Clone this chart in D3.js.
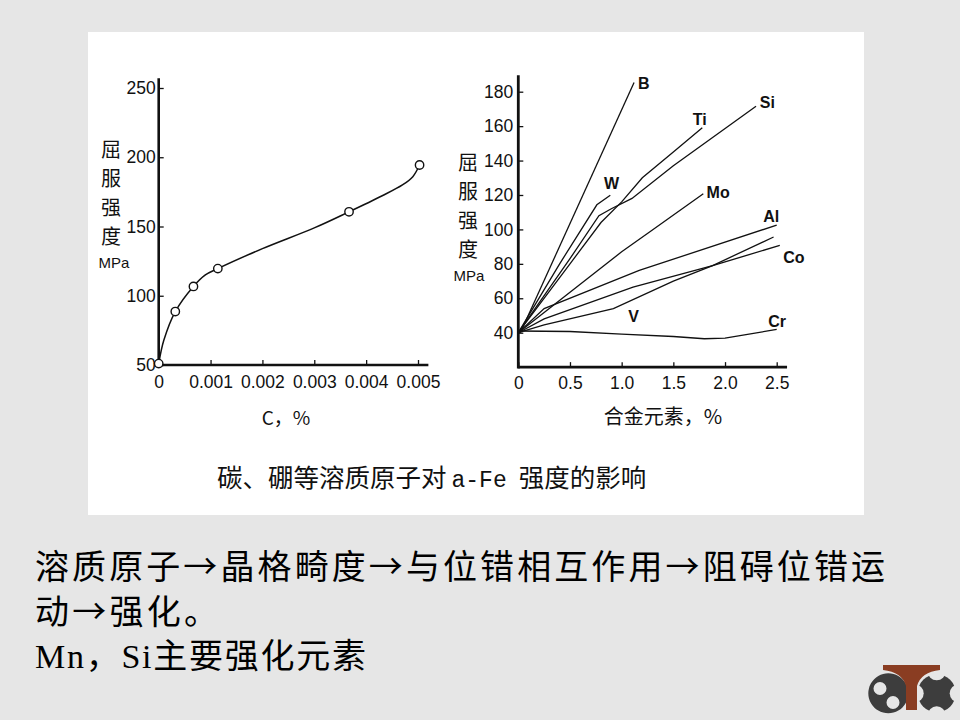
<!DOCTYPE html>
<html>
<head>
<meta charset="utf-8">
<script src="https://cdn.jsdelivr.net/npm/d3@7"></script>
<style>
  html, body { margin: 0; padding: 0; background: #e6e6e6; }
  svg { display: block; }
</style>
</head>
<body>
<svg id="slide" width="960" height="720"></svg>
<script>
// ---- data: left chart (carbon) ----
let cTicks = [0, 0.001, 0.002, 0.003, 0.004, 0.005];
let cTickLabels = ["0", "0.001", "0.002", "0.003", "0.004", "0.005"];
let ysTicksL = [50, 100, 150, 200, 250];
let cPoints = [ [0, 51], [0.00032, 88.6], [0.00067, 106.7], [0.00114, 119.6], [0.00367, 160.6], [0.00503, 194.4] ];
let cCurve = [ [0, 51], [0.0001, 68], [0.00032, 88.6], [0.00067, 106.7], [0.0009, 115], [0.00114, 119.6],
  [0.002, 134], [0.003, 149], [0.00367, 160.6], [0.0043, 172], [0.0047, 180], [0.0049, 186], [0.00503, 194.4] ];

// ---- data: right chart (alloying elements) ----
let aTicks = [0, 0.5, 1.0, 1.5, 2.0, 2.5];
let aTickLabels = ["0", "0.5", "1.0", "1.5", "2.0", "2.5"];
let ysTicksR = [40, 60, 80, 100, 120, 140, 160, 180];
let elemNames = ["B", "Ti", "Si", "W", "Mo", "Al", "Co", "V", "Cr"];
let elemLines = [
  [ [0.02, 40], [1.12, 185.3] ],
  [ [0, 40], [0.5, 80], [0.8, 104], [1.0, 116], [1.2, 130], [1.5, 145], [1.78, 159] ],
  [ [0, 40], [0.5, 83], [0.78, 108], [0.9, 112], [1.1, 118], [1.5, 137], [2.3, 171.5] ],
  [ [0, 40], [0.4, 80], [0.76, 114.3], [0.89, 119.8] ],
  [ [0, 40], [1.0, 87], [1.27, 98.5], [1.79, 120.7] ],
  [ [0, 40], [0.25, 54], [1.17, 76.2], [2.5, 102.5] ],
  [ [0, 40], [0.25, 48], [1.11, 66.5], [1.88, 79], [2.53, 90.7] ],
  [ [0, 40], [0.25, 44.5], [0.92, 54], [1.5, 70], [1.88, 79], [2.47, 95.6] ],
  [ [0, 41], [0.5, 40.7], [1.0, 39.2], [1.5, 37.8], [1.8, 36.5], [2.0, 36.9], [2.5, 41.9] ]
];
let elemLabelAt = [ [1.158, 181.8], [1.687, 160.5], [2.337, 170.6], [0.829, 123.3], [1.822, 118.3],
  [2.369, 104.3], [2.563, 80.6], [1.064, 46.2], [2.418, 43.3] ];

// ---- texts ----
let yTitleChars = ["屈", "服", "强", "度"];
let yUnit = "MPa";
let xTitleL = "C，%";
let xTitleR = "合金元素，%";
let captionA = "碳、硼等溶质原子对";
let captionB = "a-Fe";
let captionC = "强度的影响";
let bodyLines = [
  { len: 850, parts: [ ["cjk", "溶质原子→晶格畸度→与位错相互作用→阻碍位错运"] ] },
  { len: 183, parts: [ ["cjk", "动→强化。"] ] },
  { len: 331, parts: [ ["lat", "Mn"], ["cjk", "，"], ["lat", "Si"], ["cjk", "主要强化元素"] ] }
];

let svg = d3.select("#slide");
let cjkFont = "'Noto Sans CJK SC', sans-serif";
let tickFont = "'Liberation Sans', Arial, sans-serif";

svg.append("rect").attr("width", 960).attr("height", 720).attr("fill", "#e6e6e6");
svg.append("rect").attr("x", 88).attr("y", 32).attr("width", 776).attr("height", 483).attr("fill", "#ffffff");

// ---------- left chart ----------
let xL = d3.scaleLinear().domain([0, 0.005]).range([158.7, 418]);
let yL = d3.scaleLinear().domain([50, 250]).range([365, 88]);

let gL = svg.append("g");
let axL = gL.append("g").attr("transform", "translate(0," + yL(50) + ")")
  .call(d3.axisBottom(xL).tickValues(cTicks).tickFormat((d, i) => cTickLabels[i]).tickSizeInner(-5).tickSizeOuter(0).tickPadding(12));
let ayL = gL.append("g").attr("transform", "translate(" + xL(0) + ",0)")
  .call(d3.axisLeft(yL).tickValues(ysTicksL).tickSizeInner(-5).tickSizeOuter(0).tickPadding(3));
[axL, ayL].forEach(a => {
  a.select(".domain").remove();
  a.selectAll("line").attr("stroke", "#111").attr("stroke-width", 1.3);
  a.selectAll("text").attr("font-family", tickFont).attr("font-size", 17.5).attr("fill", "#111");
});
axL.selectAll("text").attr("dy", "0.6em");
gL.append("line").attr("x1", xL(0)).attr("x2", xL(0.0052)).attr("y1", yL(50)).attr("y2", yL(50))
  .attr("stroke", "#111").attr("stroke-width", 2.6);
gL.append("line").attr("x1", xL(0)).attr("x2", xL(0)).attr("y1", yL(50) + 1).attr("y2", yL(257))
  .attr("stroke", "#111").attr("stroke-width", 2.6);

gL.append("path").datum(cCurve)
  .attr("d", d3.line().x(d => xL(d[0])).y(d => yL(d[1])).curve(d3.curveCatmullRom))
  .attr("fill", "none").attr("stroke", "#111").attr("stroke-width", 1.5);
gL.selectAll("circle.pt").data(cPoints).enter().append("circle")
  .attr("cx", d => xL(d[0])).attr("cy", d => yL(d[1])).attr("r", 4.2)
  .attr("fill", "#fff").attr("stroke", "#111").attr("stroke-width", 1.4);

// axis titles
function yTitle(g, cx, top, unitX) {
  g.selectAll("text.yt").data(yTitleChars).enter().append("text")
    .attr("x", cx).attr("y", (d, i) => top + i * 29)
    .attr("text-anchor", "middle").attr("font-family", cjkFont).attr("font-size", 20).attr("fill", "#111")
    .text(d => d);
  g.append("text").attr("x", unitX).attr("y", top + 4 * 29 - 5)
    .attr("text-anchor", "middle").attr("font-family", tickFont).attr("font-size", 15).attr("fill", "#111")
    .text(yUnit);
}
yTitle(gL, 111, 157, 114);
gL.append("text").attr("x", 286).attr("y", 425).attr("text-anchor", "middle")
  .attr("font-family", cjkFont).attr("font-size", 19).attr("fill", "#111").text(xTitleL);

// ---------- right chart ----------
let xR = d3.scaleLinear().domain([0, 2.5]).range([518.3, 776.7]);
let yR = d3.scaleLinear().domain([40, 180]).range([332.7, 91.7]);

let gR = svg.append("g");
let axR = gR.append("g").attr("transform", "translate(0," + yR(20) + ")")
  .call(d3.axisBottom(xR).tickValues(aTicks).tickFormat((d, i) => aTickLabels[i]).tickSizeInner(-5).tickSizeOuter(0).tickPadding(11));
let ayR = gR.append("g").attr("transform", "translate(" + xR(0) + ",0)")
  .call(d3.axisLeft(yR).tickValues(ysTicksR).tickSizeInner(-5).tickSizeOuter(0).tickPadding(5));
[axR, ayR].forEach(a => {
  a.select(".domain").remove();
  a.selectAll("line").attr("stroke", "#111").attr("stroke-width", 1.3);
  a.selectAll("text").attr("font-family", tickFont).attr("font-size", 17.5).attr("fill", "#111");
});
axR.selectAll("text").attr("dy", "0.6em");
gR.append("line").attr("x1", xR(0)).attr("x2", xR(2.6)).attr("y1", yR(20)).attr("y2", yR(20))
  .attr("stroke", "#111").attr("stroke-width", 2.8);
gR.append("line").attr("x1", xR(0)).attr("x2", xR(0)).attr("y1", yR(20) + 1.4).attr("y2", yR(189.6))
  .attr("stroke", "#111").attr("stroke-width", 2.8);

let lineR = d3.line().x(d => xR(d[0])).y(d => yR(d[1]));
gR.selectAll("path.el").data(elemLines).enter().append("path")
  .attr("d", lineR).attr("fill", "none").attr("stroke", "#111").attr("stroke-width", 1.3);
gR.selectAll("text.el").data(elemNames).enter().append("text")
  .attr("x", (d, i) => xR(elemLabelAt[i][0])).attr("y", (d, i) => yR(elemLabelAt[i][1]))
  .attr("font-family", tickFont).attr("font-weight", "bold").attr("font-size", 16).attr("fill", "#111")
  .text(d => d);

yTitle(gR, 468, 170, 469);
gR.append("text").attr("x", 663).attr("y", 424).attr("text-anchor", "middle")
  .attr("font-family", cjkFont).attr("font-size", 20).attr("fill", "#111").text(xTitleR);

// ---------- caption ----------
let cap = svg.append("text").attr("x", 217).attr("y", 487).attr("font-size", 25.5).attr("fill", "#111");
cap.append("tspan").attr("font-family", cjkFont).text(captionA);
cap.append("tspan").attr("font-family", "'Liberation Mono', monospace").attr("font-size", 23).attr("dx", 5).text(captionB);
cap.append("tspan").attr("font-family", cjkFont).attr("dx", 12).text(captionC);

// ---------- body text ----------
bodyLines.forEach((ln, li) => {
  let t = svg.append("text").attr("x", 35).attr("y", 579 + li * 44.5).attr("font-size", 34).attr("fill", "#000");
  if (ln.len) t.attr("textLength", ln.len).attr("lengthAdjust", "spacing");
  ln.parts.forEach(p => {
    t.append("tspan")
      .attr("font-family", p[0] === "cjk" ? cjkFont : "'Liberation Serif', serif")
      .text(p[1]);
  });
});

// ---------- logo ----------
let logo = svg.append("g");
let defs = svg.append("defs");
let m = defs.append("mask").attr("id", "crossMask");
m.append("rect").attr("x", 900).attr("y", 660).attr("width", 70).attr("height", 60).attr("fill", "#fff");
[[0, -22], [22, 0], [0, 22], [-22, 0]].forEach(o => {
  m.append("circle").attr("cx", 936.7 + o[0]).attr("cy", 693.3 + o[1]).attr("r", 9).attr("fill", "#000");
});
logo.append("circle").attr("cx", 936.7).attr("cy", 693.3).attr("r", 19).attr("fill", "#3d3d3d").attr("mask", "url(#crossMask)");
logo.append("path")
  .attr("d", "M888.3,673.3 a20,20 0 1,0 0.01,0 Z M880,682 a6.5,6.5 0 1,1 0,13 a6.5,6.5 0 1,1 0,-13 Z M893,696 a6.5,6.5 0 1,1 0,13 a6.5,6.5 0 1,1 0,-13 Z")
  .attr("fill", "#3d3d3d").attr("fill-rule", "evenodd");
logo.append("path")
  .attr("d", "M883,665 L940,665 L940,670 Q921,672 917,686 L917,710 L906,710 L906,686 Q902,672 883,670 Z")
  .attr("fill", "#8a3d22");
</script>
</body>
</html>
